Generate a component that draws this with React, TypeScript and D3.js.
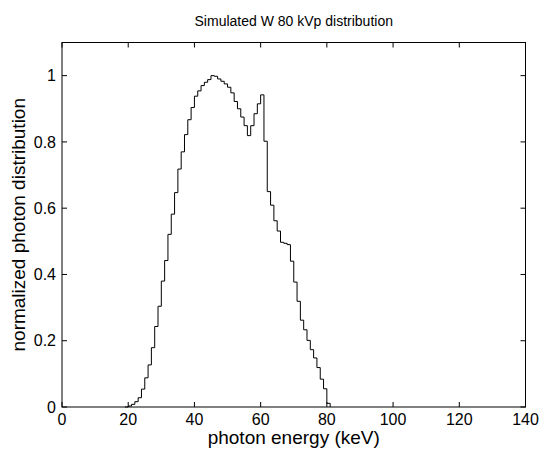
import React from "react";
import * as d3 from "d3";

const binStartKeV: number[] = [
  19, 20, 21, 22, 23, 24, 25, 26, 27, 28, 29, 30, 31, 32, 33, 34, 35, 36, 37, 38, 39,
  40, 41, 42, 43, 44, 45, 46, 47, 48, 49, 50, 51, 52, 53, 54, 55, 56, 57, 58, 59,
  60, 61, 62, 63, 64, 65, 66, 67, 68, 69, 70, 71, 72, 73, 74, 75, 76, 77, 78, 79, 80, 81,
];
const normalizedCounts: number[] = [
  0, 0.003, 0.008, 0.016, 0.028, 0.054, 0.088, 0.127, 0.179, 0.243, 0.304, 0.38, 0.442, 0.521, 0.582, 0.647, 0.718, 0.77, 0.822, 0.867, 0.904,
  0.938, 0.954, 0.97, 0.98, 0.988, 1.0, 0.998, 0.99, 0.983, 0.975, 0.965, 0.948, 0.922, 0.9, 0.875, 0.849, 0.819, 0.849, 0.885, 0.915,
  0.942, 0.802, 0.65, 0.609, 0.562, 0.531, 0.497, 0.494, 0.49, 0.44, 0.377, 0.319, 0.262, 0.233, 0.201, 0.173, 0.148, 0.119, 0.084, 0.055, 0.011, 0,
];
const xTicks: number[] = [0, 20, 40, 60, 80, 100, 120, 140];
const yTicks: number[] = [0, 0.2, 0.4, 0.6, 0.8, 1];
const yTickLabels: string[] = ["0", "0.2", "0.4", "0.6", "0.8", "1"];
const titleText = "Simulated W 80 kVp distribution";
const xLabelText = "photon energy (keV)";
const yLabelText = "normalized photon distribution";

export default function App() {
  const W = 545;
  const H = 457;
  const left = 62;
  const right = 525.5;
  const top = 42.5;
  const bottom = 407;
  const x = d3.scaleLinear().domain([0, 140]).range([left, right]);
  const y = d3.scaleLinear().domain([0, 1.1]).range([bottom, top]);
  const pts: [number, number][] = binStartKeV.map((k, i) => [k, normalizedCounts[i]]);
  const line = d3
    .line<[number, number]>()
    .x((d) => x(d[0]))
    .y((d) => y(d[1]))
    .curve(d3.curveStepAfter);
  const path = line(pts) || "";
  const tl = 5;
  const font = "'Liberation Sans', Arial, Helvetica, sans-serif";
  return (
    <svg
      width={W}
      height={H}
      style={{ position: "absolute", left: 0, top: 0, background: "#fff" }}
      fontFamily={font}
    >
      <rect x={0} y={0} width={W} height={H} fill="#fff" />
      <path d={path} fill="none" stroke="#000" strokeWidth={1} />
      {xTicks.map((t) => (
        <g key={"x" + t}>
          <line x1={x(t)} x2={x(t)} y1={bottom} y2={bottom - tl} stroke="#000" />
          <line x1={x(t)} x2={x(t)} y1={top} y2={top + tl} stroke="#000" />
          <text x={x(t)} y={425} fontSize={16} textAnchor="middle">
            {t}
          </text>
        </g>
      ))}
      {yTicks.map((t, i) => (
        <g key={"y" + t}>
          <line x1={left} x2={left + tl} y1={y(t)} y2={y(t)} stroke="#000" />
          <line x1={right} x2={right - tl} y1={y(t)} y2={y(t)} stroke="#000" />
          <text x={56} y={y(t)} dy="0.35em" fontSize={16} textAnchor="end">
            {yTickLabels[i]}
          </text>
        </g>
      ))}
      <rect x={left} y={top} width={right - left} height={bottom - top} fill="none" stroke="#000" strokeWidth={1} />
      <text x={(left + right) / 2} y={26} fontSize={14} textAnchor="middle">
        {titleText}
      </text>
      <text x={(left + right) / 2} y={444} fontSize={19} textAnchor="middle">
        {xLabelText}
      </text>
      <text
        transform={`translate(25, ${(top + bottom) / 2}) rotate(-90)`}
        fontSize={19}
        textAnchor="middle"
      >
        {yLabelText}
      </text>
    </svg>
  );
}
